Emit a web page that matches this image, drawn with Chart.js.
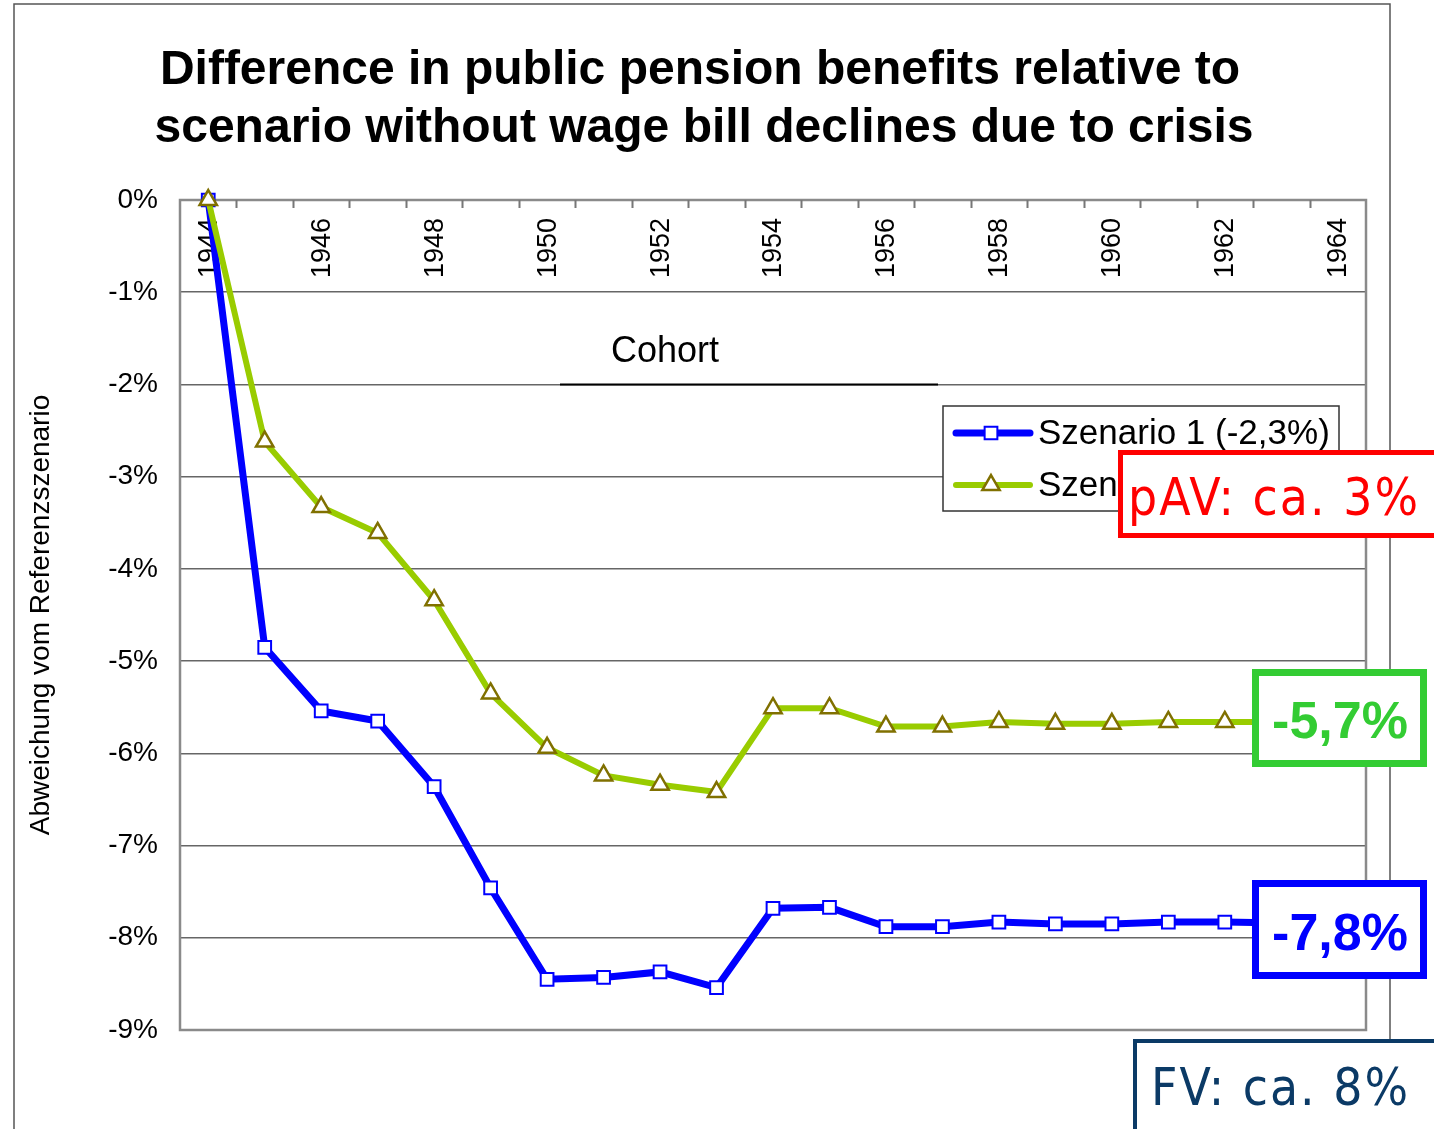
<!DOCTYPE html>
<html>
<head>
<meta charset="utf-8">
<script src="https://cdn.jsdelivr.net/npm/chart.js@4.4.1/dist/chart.umd.min.js"></script>
<style>
  html, body { margin: 0; padding: 0; background: #fff; }
  canvas { display: block; }
</style>
</head>
<body>
<canvas id="c" width="1434" height="1129"></canvas>
<script>
// ---- data ----
const categories = ['1944','1945','1946','1947','1948','1949','1950','1951','1952','1953','1954',
                    '1955','1956','1957','1958','1959','1960','1961','1962','1963','1964'];
const scenario1 = [0, -4.85, -5.54, -5.65, -6.36, -7.46, -8.45, -8.43, -8.37, -8.54, -7.68,
                   -7.67, -7.88, -7.88, -7.83, -7.85, -7.85, -7.83, -7.83, -7.84, null];
const scenario2 = [0, -2.62, -3.33, -3.61, -4.34, -5.35, -5.94, -6.24, -6.34, -6.42, -5.51,
                   -5.51, -5.71, -5.71, -5.66, -5.68, -5.68, -5.66, -5.66, -5.66, null];
const seriesLabels = ['Szenario 1 (-2,3%)', 'Szenario 2 (-3,6%)'];
const titleLines = ['Difference in public pension benefits relative to',
                    'scenario without wage bill declines due to crisis'];
const xAxisTitle = 'Cohort';
const yAxisTitle = 'Abweichung vom Referenzszenario';
const yMin = -9, yMax = 0, yStep = 1;
const noteRed = 'pAV: ca. 3%';
const noteGreen = '-5,7%';
const noteBlue = '-7,8%';
const noteNavy = 'FV: ca. 8%';

const FONT = '"Liberation Sans", Arial, sans-serif';
const NARROW = '"Liberation Sans Narrow", "DejaVu Sans Condensed", "Liberation Sans", sans-serif';

function fitText(ctx, text, x, y, width) {
  ctx.letterSpacing = '0px';
  const w = ctx.measureText(text).width;
  const sp = (width - w) / (text.length - 1);
  ctx.letterSpacing = sp + 'px';
  ctx.textAlign = 'left';
  ctx.fillText(text, x, y);
  ctx.letterSpacing = '0px';
}

const decor = {
  id: 'decor',
  beforeDraw(chart) {
    const ctx = chart.ctx;
    ctx.save();
    ctx.fillStyle = '#fff';
    ctx.fillRect(0, 0, chart.width, chart.height);
    // outer frame
    ctx.strokeStyle = '#555';
    ctx.lineWidth = 1.5;
    ctx.beginPath();
    ctx.moveTo(14, 1129); ctx.lineTo(14, 4); ctx.lineTo(1390, 4); ctx.lineTo(1390, 1129);
    ctx.stroke();
    // title
    ctx.fillStyle = '#000';
    ctx.font = 'bold 48px ' + FONT;
    ctx.textAlign = 'center';
    ctx.textBaseline = 'alphabetic';
    ctx.fillText(titleLines[0], 700, 84);
    ctx.fillText(titleLines[1], 704, 142);
    // y axis title
    ctx.save();
    ctx.translate(49, (chart.chartArea.top + chart.chartArea.bottom) / 2);
    ctx.rotate(-Math.PI / 2);
    ctx.font = '28px ' + FONT;
    ctx.textAlign = 'center';
    ctx.fillText(yAxisTitle, 0, 0);
    ctx.restore();
    ctx.restore();
  },
  beforeDatasetsDraw(chart) {
    const ctx = chart.ctx;
    const a = chart.chartArea;
    const xs = chart.scales.x;
    ctx.save();
    // plot frame
    ctx.strokeStyle = '#8a8a8a';
    ctx.lineWidth = 2.5;
    ctx.strokeRect(a.left, a.top, a.right - a.left, a.bottom - a.top);
    // tick marks at category boundaries
    ctx.lineWidth = 2;
    ctx.strokeStyle = '#777';
    ctx.beginPath();
    for (let i = 1; i < categories.length; i++) {
      const x = Math.round((xs.getPixelForValue(i - 1) + xs.getPixelForValue(i)) / 2) + 0.5;
      ctx.moveTo(x, a.top);
      ctx.lineTo(x, a.top + 8);
    }
    ctx.stroke();
    // rotated category labels (every second)
    ctx.fillStyle = '#000';
    ctx.font = '27px ' + FONT;
    ctx.textAlign = 'right';
    ctx.textBaseline = 'middle';
    categories.forEach((c, i) => {
      if (i % 2) return;
      ctx.save();
      ctx.translate(xs.getPixelForValue(i), a.top + 18);
      ctx.rotate(-Math.PI / 2);
      ctx.fillText(c, 0, 1);
      ctx.restore();
    });
    // Cohort label with underline
    ctx.font = '36px ' + FONT;
    ctx.textAlign = 'center';
    ctx.textBaseline = 'alphabetic';
    ctx.fillText(xAxisTitle, 665, 362);
    const yLine = chart.scales.y.getPixelForValue(-2);
    ctx.strokeStyle = '#000';
    ctx.lineWidth = 2;
    ctx.beginPath();
    ctx.moveTo(560, yLine); ctx.lineTo(938, yLine);
    ctx.stroke();
    ctx.restore();
  },
  afterDatasetsDraw(chart) {
    const ctx = chart.ctx;
    ctx.save();
    // legend
    ctx.fillStyle = '#fff';
    ctx.fillRect(943, 406, 396, 105);
    ctx.strokeStyle = '#333';
    ctx.lineWidth = 1.5;
    ctx.strokeRect(943, 406, 396, 105);
    const rows = [433, 485];
    chart.data.datasets.forEach((ds, i) => {
      const y = rows[i];
      ctx.strokeStyle = ds.borderColor;
      ctx.lineWidth = ds.borderWidth;
      ctx.lineCap = 'round';
      ctx.beginPath();
      ctx.moveTo(956, y); ctx.lineTo(1030, y);
      ctx.stroke();
      ctx.lineCap = 'butt';
      ctx.fillStyle = ds.pointBackgroundColor;
      ctx.strokeStyle = ds.pointBorderColor;
      ctx.lineWidth = ds.pointBorderWidth;
      Chart.helpers.drawPoint(ctx, {pointStyle: ds.pointStyle, radius: ds.pointRadius, rotation: 0, borderWidth: ds.pointBorderWidth}, 991, y);
      ctx.fillStyle = '#000';
      ctx.font = '35px ' + FONT;
      ctx.textAlign = 'left';
      ctx.textBaseline = 'alphabetic';
      ctx.fillText(ds.label, 1038, y + 11);
    });
    ctx.restore();
  },
  afterDraw(chart) {
    const ctx = chart.ctx;
    ctx.save();
    ctx.textBaseline = 'alphabetic';
    // red note
    ctx.fillStyle = '#fff';
    ctx.fillRect(1118, 450, 330, 88);
    ctx.strokeStyle = '#ff0000';
    ctx.lineWidth = 5;
    ctx.strokeRect(1120.5, 452.5, 330, 83);
    ctx.fillStyle = '#ff0000';
    ctx.font = '51px ' + NARROW;
    fitText(ctx, noteRed, 1128, 515, 290);
    // green note
    ctx.fillStyle = '#fff';
    ctx.fillRect(1252, 669, 175, 98);
    ctx.strokeStyle = '#33cc33';
    ctx.lineWidth = 7;
    ctx.strokeRect(1255.5, 672.5, 168, 91);
    ctx.fillStyle = '#33cc33';
    ctx.font = 'bold 52px ' + FONT;
    ctx.textAlign = 'center';
    ctx.fillText(noteGreen, 1340, 738);
    // blue note
    ctx.fillStyle = '#fff';
    ctx.fillRect(1252, 880, 175, 99);
    ctx.strokeStyle = '#0000ff';
    ctx.lineWidth = 7;
    ctx.strokeRect(1255.5, 883.5, 168, 92);
    ctx.fillStyle = '#0000ff';
    ctx.fillText(noteBlue, 1340, 950);
    // navy note
    ctx.fillStyle = '#fff';
    ctx.fillRect(1133, 1039, 320, 100);
    ctx.strokeStyle = '#0b3a66';
    ctx.lineWidth = 4;
    ctx.strokeRect(1135, 1041, 320, 100);
    ctx.fillStyle = '#0b3a66';
    ctx.font = '51px ' + NARROW;
    fitText(ctx, noteNavy, 1151, 1105, 257);
    ctx.restore();
  }
};

new Chart(document.getElementById('c'), {
  type: 'line',
  data: {
    labels: categories,
    datasets: [
      {
        label: seriesLabels[0],
        data: scenario1,
        borderColor: '#0000ff',
        borderWidth: 7,
        pointStyle: 'rect',
        pointRadius: 9,
        pointHoverRadius: 9,
        pointBackgroundColor: '#ffffff',
        pointBorderColor: '#0000ff',
        pointBorderWidth: 2,
        tension: 0,
        clip: false,
        order: 1
      },
      {
        label: seriesLabels[1],
        data: scenario2,
        borderColor: '#99cc00',
        borderWidth: 6,
        pointStyle: 'triangle',
        pointRadius: 10,
        pointHoverRadius: 10,
        pointBackgroundColor: '#ffffff',
        pointBorderColor: '#807000',
        pointBorderWidth: 2.5,
        tension: 0,
        clip: false,
        order: 0
      }
    ]
  },
  options: {
    responsive: false,
    animation: false,
    devicePixelRatio: 1,
    layout: { padding: { top: 200, right: 68, bottom: 99, left: 0 } },
    plugins: { legend: { display: false }, title: { display: false }, tooltip: { enabled: false } },
    events: [],
    scales: {
      x: { type: 'category', offset: true, display: false },
      y: {
        min: yMin, max: yMax,
        afterFit: (s) => { s.width = 180; },
        ticks: {
          stepSize: yStep,
          callback: (v) => v + '%',
          color: '#000',
          font: { size: 28, family: FONT },
          padding: 22
        },
        grid: { color: '#666', lineWidth: 1.5, drawTicks: false },
        border: { display: false }
      }
    }
  },
  plugins: [decor]
});
</script>
</body>
</html>
